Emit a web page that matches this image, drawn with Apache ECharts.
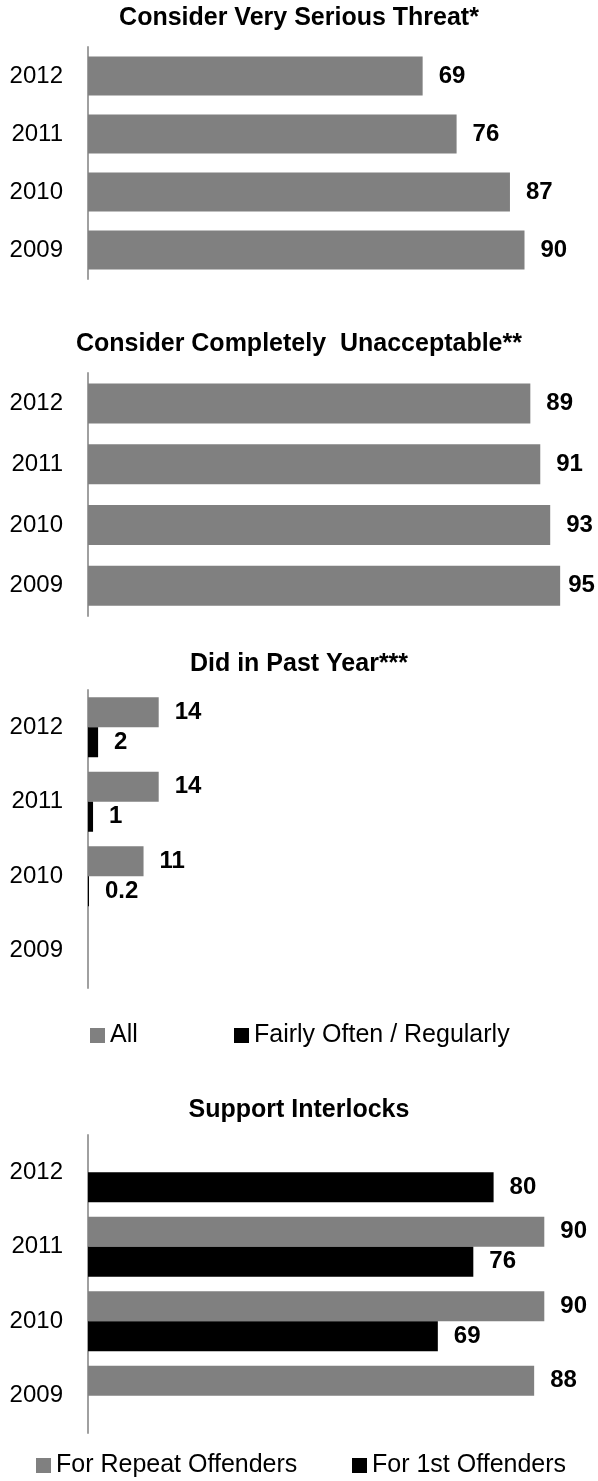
<!DOCTYPE html>
<html>
<head>
<meta charset="utf-8">
<script src="https://cdn.jsdelivr.net/npm/echarts@6/dist/echarts.min.js"></script>
<style>
    body {margin: 0; background: #fff;}
    #chart {width: 598px; height: 1481px;}
</style>
</head>
<body>
<div id="chart"></div>
<script>
var years = ['2012', '2011', '2010', '2009'];
var threat = [69, 76, 87, 90];
var unacceptable = [89, 91, 93, 95];
var pastYearAll = [14, 14, 11, null];
var pastYearOften = [2, 1, 0.2, null];
var interlockRepeat = [null, 90, 90, 88];
var interlockFirst = [80, 76, 69, null];

var titles = ['Consider Very Serious Threat*', 'Consider Completely  Unacceptable**',
    'Did in Past Year***', 'Support Interlocks'];

var font = 'Liberation Sans, Arial, sans-serif';
var gray = '#808080';
var black = '#000000';

// one grid per panel, pixel positions
var grids = [
    {left: 88, top: 47, width: 485, height: 232},
    {left: 88, top: 373, width: 497, height: 243},
    {left: 88, top: 690, width: 505, height: 298},
    {left: 88, top: 1135, width: 507, height: 298}
];
var titleTops = [6, 332, 652, 1098];

var valueLabel = {
    show: true,
    position: 'right',
    distance: 16,
    fontSize: 24,
    fontWeight: 'bold',
    color: '#000',
    fontFamily: font
};

var xAxes = [], yAxes = [];
for (var i = 0; i < grids.length; i++) {
    xAxes.push({type: 'value', gridIndex: i, min: 0, max: 100, show: false});
    yAxes.push({
        type: 'category',
        gridIndex: i,
        data: years,
        inverse: true,
        axisLine: {show: true, lineStyle: {color: '#a0a0a0', width: 2}},
        axisTick: {show: false},
        axisLabel: {margin: 25, fontSize: 24, color: '#000', fontFamily: font}
    });
}

function legendAt(name, left, top) {
    return {
        data: [name],
        left: left,
        top: top,
        padding: 0,
        icon: 'rect',
        itemWidth: 15,
        itemHeight: 15,
        selectedMode: false,
        textStyle: {fontSize: 25, color: '#000', fontFamily: font}
    };
}

// the last label of panel 2 sits tight to its bar, as in the original
var unacceptableData = unacceptable.map(function (v, i) {
    return i === unacceptable.length - 1 ? {value: v, label: {distance: 8}} : v;
});

var option = {
    animation: false,
    textStyle: {fontFamily: font},
    title: titles.map(function (t, i) {
        return {
            text: t,
            left: 'center',
            top: titleTops[i],
            padding: 0,
            textStyle: {fontSize: 25, fontWeight: 'bold', color: '#000', fontFamily: font}
        };
    }),
    legend: [
        legendAt('All', 90, 1023),
        legendAt('Fairly Often / Regularly', 234, 1023),
        legendAt('For Repeat Offenders', 36, 1453),
        legendAt('For 1st Offenders', 352, 1453)
    ],
    grid: grids,
    xAxis: xAxes,
    yAxis: yAxes,
    series: [
        {name: 'Threat', type: 'bar', xAxisIndex: 0, yAxisIndex: 0, data: threat,
            barWidth: 39, itemStyle: {color: gray}, label: valueLabel},
        {name: 'Unacceptable', type: 'bar', xAxisIndex: 1, yAxisIndex: 1, data: unacceptableData,
            barWidth: 40, itemStyle: {color: gray}, label: valueLabel},
        {name: 'All', type: 'bar', xAxisIndex: 2, yAxisIndex: 2, data: pastYearAll,
            barWidth: 30, barGap: '0%', itemStyle: {color: gray}, label: valueLabel},
        {name: 'Fairly Often / Regularly', type: 'bar', xAxisIndex: 2, yAxisIndex: 2, data: pastYearOften,
            barWidth: 30, barGap: '0%', itemStyle: {color: black}, label: valueLabel},
        {name: 'For Repeat Offenders', type: 'bar', xAxisIndex: 3, yAxisIndex: 3, data: interlockRepeat,
            barWidth: 30, barGap: '0%', itemStyle: {color: gray}, label: valueLabel},
        {name: 'For 1st Offenders', type: 'bar', xAxisIndex: 3, yAxisIndex: 3, data: interlockFirst,
            barWidth: 30, barGap: '0%', itemStyle: {color: black}, label: valueLabel}
    ]
};

var chart = echarts.init(document.getElementById('chart'));
chart.setOption(option);
</script>
</body>
</html>
